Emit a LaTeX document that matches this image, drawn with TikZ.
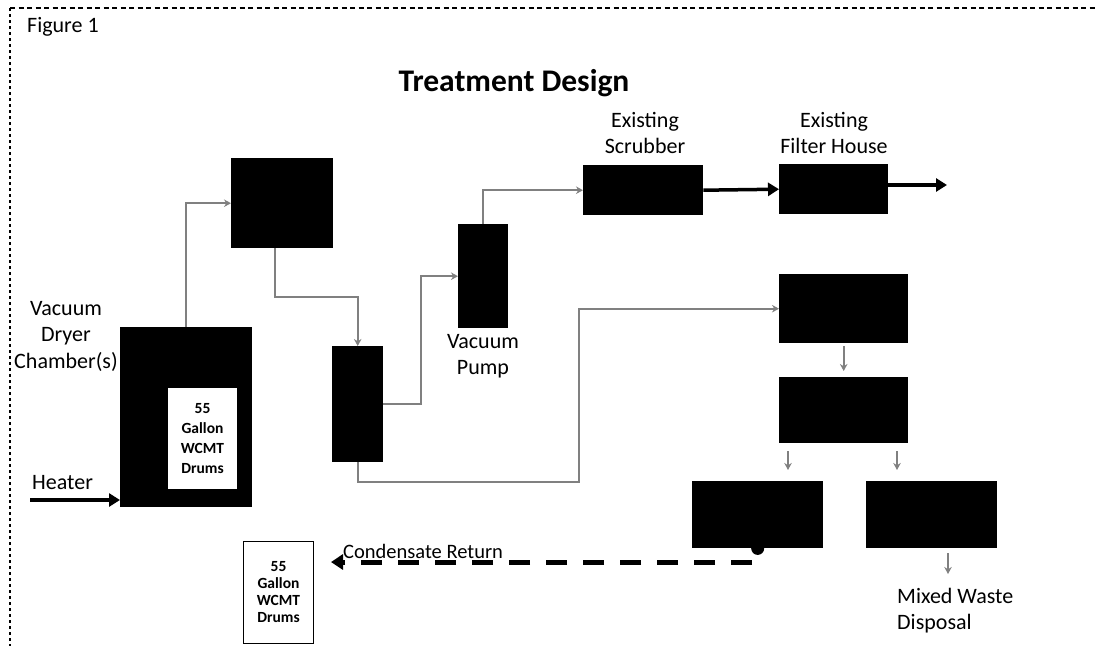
\documentclass[tikz,border=0pt]{standalone}
\usepackage{fontspec}
\setmainfont{Carlito}
\usetikzlibrary{arrows.meta,calc}
\begin{document}
\begin{tikzpicture}[x=1pt,y=-1pt,
  blk/.style={fill=black,draw=none,inner sep=0,anchor=north west},
  drumbox/.style={draw=black,fill=white,line width=1pt,inner sep=0,anchor=north west,
    minimum width=70pt,minimum height=102pt,align=center,
    font=\bfseries\fontsize{15.5}{17}\selectfont},
  lbl/.style={font=\fontsize{22}{26.5}\selectfont,align=center,inner sep=0},
  flow/.style={draw=black!50,line width=1.9pt,-{Stealth[length=7pt,width=7.5pt]}},
  mainflow/.style={draw=black,line width=3.5pt,-{Triangle[length=11pt,width=13pt]}}]
\useasboundingbox (0,0) rectangle (1097,646);
% frame
\coordinate (ftl) at (10,8);
\coordinate (ftr) at (1097,8);
\coordinate (fbl) at (10,646);
\draw[line width=1.4pt,dash pattern=on 5pt off 3.5pt] (ftl) -- (ftr);
\draw[line width=1.6pt,dash pattern=on 2.5pt off 3.5pt] (ftl) -- (fbl);
% boxes
\node[blk,minimum width=132pt,minimum height=180pt] (dryer) at (120,327) {};
\node[drumbox,font=\bfseries\fontsize{15.5}{20}\selectfont] (drums1) at (167,387) {55\\Gallon\\WCMT\\Drums};
\node[blk,minimum width=102pt,minimum height=90pt] (cond) at (231,158) {};
\node[blk,minimum width=51pt,minimum height=116pt] (sep) at (332,346) {};
\node[blk,minimum width=50pt,minimum height=104pt] (pump) at (458,224) {};
\node[blk,minimum width=120pt,minimum height=50pt] (scrub) at (583,165) {};
\node[blk,minimum width=109pt,minimum height=50pt] (filt) at (779,164) {};
\node[blk,minimum width=129pt,minimum height=69pt] (r1) at (779,274) {};
\node[blk,minimum width=129pt,minimum height=66pt] (r2) at (779,377) {};
\node[blk,minimum width=131pt,minimum height=67pt] (b1) at (692,481) {};
\node[blk,minimum width=131pt,minimum height=67pt] (b2) at (866,481) {};
\node[drumbox] (drums2) at (243,541) {55\\Gallon\\WCMT\\Drums};
% labels
\node[lbl,anchor=west] (fig) at (27,27) {Figure 1};
\node[font=\bfseries\fontsize{31.5}{36}\selectfont,inner sep=0] (title) at (514,83) {Treatment Design};
\node[lbl] (lscrub) at (645,133) {Existing\\Scrubber};
\node[lbl] (lfilt) at (834,133) {Existing\\Filter House};
\node[lbl] (lpump) at (483,356) {Vacuum\\Pump};
\node[lbl] (ldryer) at (66,336) {Vacuum\\Dryer\\Chamber(s)};
\node[lbl,anchor=west] (lheat) at (32,483) {Heater};
\node[lbl,font=\fontsize{20.5}{26}\selectfont,anchor=base west] (lcond) at (343,558) {Condensate Return};
\node[lbl,align=left,anchor=north west] (lmix) at (897,588) {Mixed Waste\\Disposal};
% gray process connectors
\draw[flow] (dryer.north) |- (cond.west);
\coordinate (j1) at (300,297);
\draw[flow] ([xshift=-7pt]cond.south) |- (j1) -| (sep.north);
\coordinate (j2) at (421,403);
\draw[flow] (sep.east) -- (sep.east -| j2) |- (pump.west);
\draw[flow] (pump.north) |- (scrub.west);
\coordinate (j3) at (579,482);
\draw[flow] (sep.south) |- (j3) |- (r1.west);
\draw[flow,shorten <=3pt,shorten >=6pt] (r1.south) -- (r2.north);
\coordinate (c1) at (788,0);
\coordinate (c2) at (897,0);
\draw[flow,shorten <=8pt,shorten >=11pt] (r2.south -| c1) -- (b1.north -| c1);
\draw[flow,shorten <=8pt,shorten >=11pt] (r2.south -| c2) -- (b2.north -| c2);
\coordinate (mw) at (948,574);
\draw[flow,shorten <=5pt] (b2.south -| mw) -- (mw);
% black main arrows
\draw[mainflow] (scrub.east) -- (filt.west);
\coordinate (out) at (947,185);
\draw[mainflow] (filt.east |- out) -- (out);
\coordinate (h0) at (30,500);
\draw[mainflow] (h0) -- (h0 -| dryer.west);
% condensate return
\fill (b1.south) circle (6.5);
\coordinate (cr) at (752,562);
\draw[line width=5pt,dash pattern=on 21pt off 16pt,-{Triangle[length=12pt,width=15pt]},shorten >=17pt] (cr) -- (cr -| drums2.east);
\end{tikzpicture}
\end{document}
